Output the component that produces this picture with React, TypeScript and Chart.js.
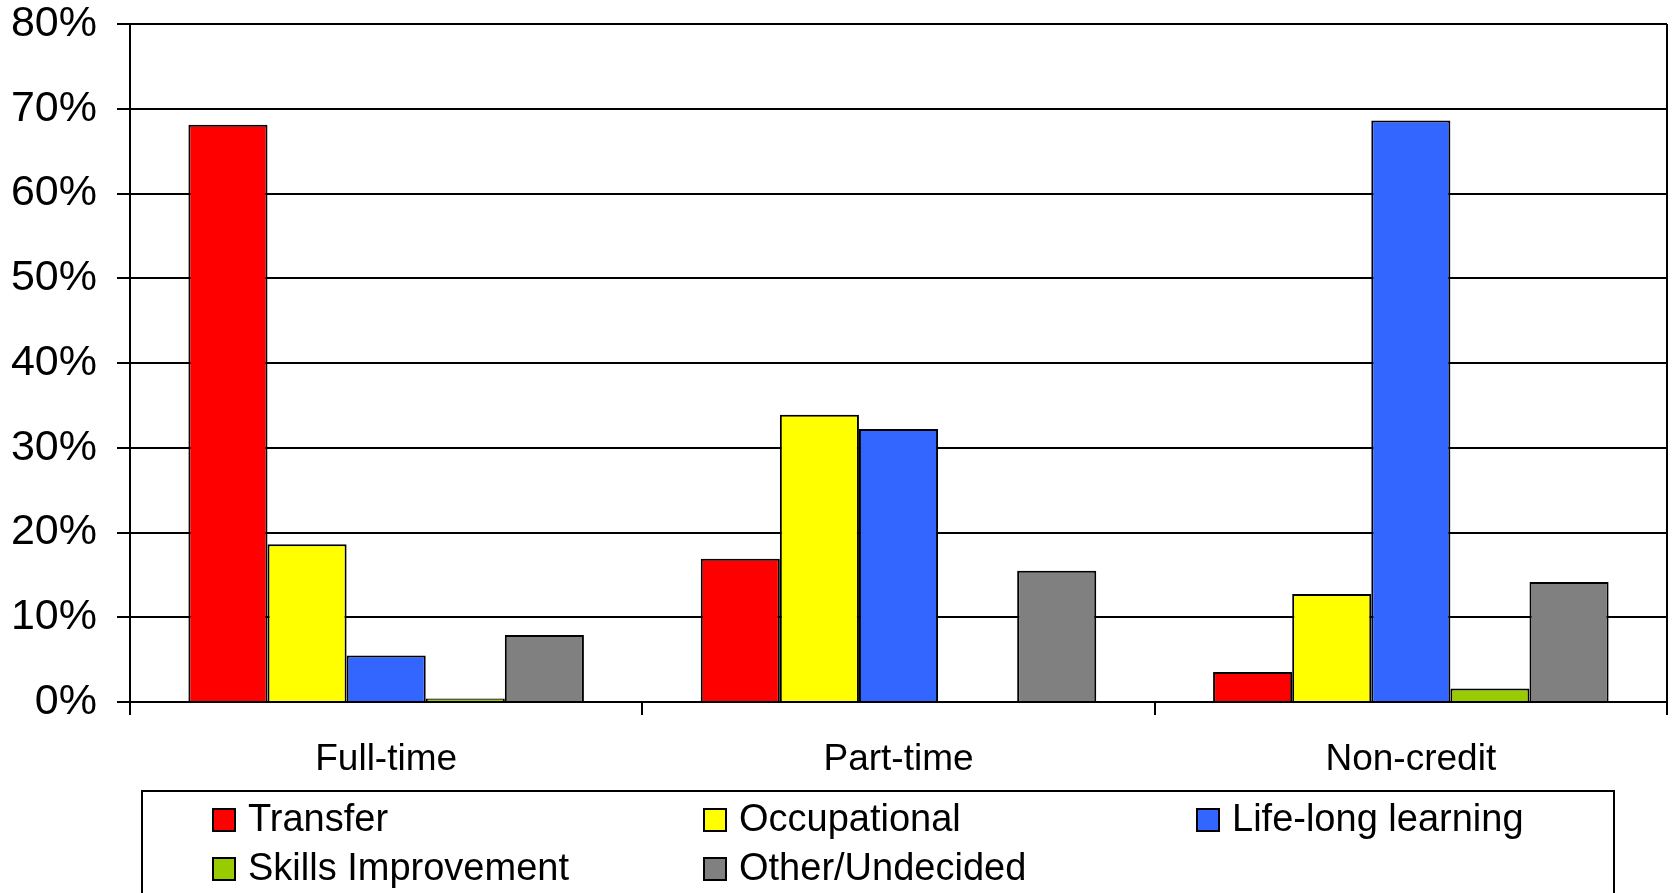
import React, { useEffect, useRef } from "react";
import { Chart, registerables } from "chart.js";

Chart.register(...registerables);

const categories = ["Full-time", "Part-time", "Non-credit"];
const seriesNames = ["Transfer", "Occupational", "Life-long learning", "Skills Improvement", "Other/Undecided"];
const transfer = [68.1, 16.9, 3.55];
const occupational = [18.6, 33.9, 12.75];
const lifelong = [5.5, 32.2, 68.6];
const skills: (number | null)[] = [0.4, null, 1.6];
const other = [7.9, 15.5, 14.15];
const seriesColors = ["#FF0000", "#FFFF00", "#3366FF", "#99CC00", "#808080"];
const yMin = 0;
const yMax = 80;
const yStep = 10;

const FONT = '"Liberation Sans", Arial, sans-serif';

const frameAndLegend = {
  id: "frameAndLegend",
  afterDraw(chart: any) {
    const { ctx, chartArea } = chart;
    ctx.save();
    // right border of plot area
    ctx.strokeStyle = "#000";
    ctx.lineWidth = 2;
    ctx.beginPath();
    ctx.moveTo(chartArea.right, chartArea.top);
    ctx.lineTo(chartArea.right, chartArea.bottom);
    ctx.stroke();

    // legend box
    const boxLeft = 142;
    const boxTop = 791;
    const boxRight = 1614;
    ctx.lineWidth = 2;
    ctx.strokeRect(boxLeft, boxTop, boxRight - boxLeft, 200);

    const colX = [213, 704, 1197];
    const rowY = [809, 858];
    const sw = 22;
    ctx.font = `38px ${FONT}`;
    ctx.textBaseline = "middle";
    ctx.textAlign = "left";
    chart.data.datasets.forEach((ds: any, i: number) => {
      const col = i % 3;
      const row = Math.floor(i / 3);
      const x = colX[col];
      const y = rowY[row];
      ctx.fillStyle = ds.backgroundColor;
      ctx.fillRect(x, y, sw, sw);
      ctx.lineWidth = 2;
      ctx.strokeStyle = "#000";
      ctx.strokeRect(x, y, sw, sw);
      ctx.fillStyle = "#000";
      ctx.fillText(ds.label, x + 35, y + sw / 2 + 1);
    });
    ctx.restore();
  },
};

export default function App() {
  const canvasRef = useRef<HTMLCanvasElement | null>(null);

  useEffect(() => {
    document.body.style.margin = "0";
    const canvas = canvasRef.current;
    if (!canvas) return;
    const values = [transfer, occupational, lifelong, skills, other];
    const chart = new Chart(canvas, {
      type: "bar",
      data: {
        labels: categories,
        datasets: seriesNames.map((name, i) => ({
          label: name,
          data: values[i],
          backgroundColor: seriesColors[i],
          borderColor: "#000",
          borderWidth: 2,
          categoryPercentage: 0.772,
          barPercentage: 1.0,
        })),
      },
      options: {
        responsive: false,
        animation: false,
        devicePixelRatio: 1,
        layout: { padding: { left: 0, right: 8, top: 24, bottom: 111 } },
        plugins: {
          legend: { display: false },
          tooltip: { enabled: false },
          title: { display: false },
        },
        scales: {
          x: {
            afterFit: (scale: any) => {
              scale.height = 80;
              scale.paddingLeft = 0;
              scale.paddingRight = 0;
            },
            grid: {
              display: true,
              drawOnChartArea: false,
              drawTicks: true,
              tickLength: 13,
              color: "#000",
              lineWidth: 2,
              offset: true,
            },
            border: { display: true, color: "#000", width: 2 },
            ticks: {
              color: "#000",
              padding: 23,
              font: { family: FONT, size: 37 },
              maxRotation: 0,
            },
          },
          y: {
            min: yMin,
            max: yMax,
            afterFit: (scale: any) => {
              scale.width = 130;
              scale.paddingTop = 0;
              scale.paddingBottom = 0;
            },
            grid: {
              display: true,
              drawOnChartArea: true,
              drawTicks: true,
              tickLength: 13,
              color: "#000",
              lineWidth: 2,
            },
            border: { display: true, color: "#000", width: 2 },
            ticks: {
              stepSize: yStep,
              color: "#000",
              padding: 20,
              font: { family: FONT, size: 43 },
              callback: (v: any) => `${v}%`,
            },
          },
        },
      },
      plugins: [frameAndLegend],
    });
    return () => chart.destroy();
  }, []);

  return (
    <div style={{ width: 1675, height: 893, position: "relative", background: "#fff" }}>
      <canvas ref={canvasRef} width={1675} height={893} />
    </div>
  );
}
